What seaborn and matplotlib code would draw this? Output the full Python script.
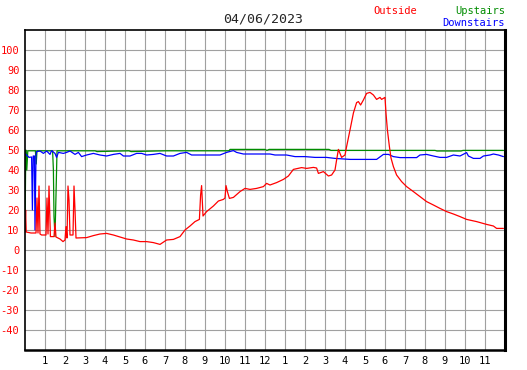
import numpy as np
import pandas as pd
import matplotlib
matplotlib.use('Agg')
import matplotlib.pyplot as plt
import seaborn as sns

# temperatures (hours since midnight, degrees)
outside_hours = [0.0, 0.03, 0.06, 0.3, 0.55, 0.6, 0.65, 0.7, 0.75, 0.83, 1.05, 1.1, 1.15, 1.2, 1.27,
                 1.45, 1.5, 1.55, 1.75, 1.9, 2.0, 2.05, 2.1, 2.15, 2.2, 2.25, 2.4, 2.45, 2.5, 2.55,
                 3.08, 3.42, 3.75, 4.08, 4.42, 4.75, 5.08, 5.42, 5.75, 6.08, 6.42, 6.75, 7.08, 7.42,
                 7.75, 8.0, 8.25, 8.5, 8.72, 8.78, 8.83, 8.9, 9.08, 9.42, 9.67, 9.92, 10.0, 10.05,
                 10.12, 10.22, 10.42, 10.75, 11.0, 11.25, 11.58, 11.92, 12.08, 12.25, 12.58, 12.92,
                 13.17, 13.42, 13.83, 14.08, 14.42, 14.58, 14.67, 14.92, 15.17, 15.33, 15.5, 15.58,
                 15.67, 15.83, 16.0, 16.08, 16.25, 16.42, 16.58, 16.67, 16.78, 16.92, 17.08, 17.25,
                 17.42, 17.58, 17.75, 17.83, 18.0, 18.05, 18.12, 18.22, 18.3, 18.42, 18.58, 18.83,
                 19.08, 19.42, 19.75, 20.08, 20.42, 20.75, 21.08, 21.42, 21.75, 22.08, 22.58, 23.08,
                 23.42, 23.58, 23.92]
outside_temp = [9.0, 20, 9, 8.5, 8.5, 26, 8.5, 32, 8, 7.5, 7.5, 26, 8, 32, 6.7,
                6.7, 13.5, 6.5, 5.5, 4.2, 5, 11.7, 6, 32, 25, 7.5, 7.5, 32, 20, 6,
                6.2, 7.2, 8, 8.3, 7.5, 6.5, 5.5, 5, 4.2, 4.2, 3.7, 2.8, 5, 5.3,
                6.7, 10, 12, 14.2, 15.3, 27.5, 32.2, 17, 19.2, 22, 24.5, 25.3, 26, 32.2,
                29.2, 25.8, 26.3, 29.2, 30.8, 30.3, 30.8, 31.7, 33.3, 32.5, 33.7, 35.3,
                37, 40.3, 41.2, 40.8, 41.3, 41, 38.3, 39.2, 37, 37.5, 40, 45,
                50.3, 46.3, 47.5, 51.7, 60, 68.5, 73.7, 74.2, 72.5, 75, 78.3, 78.8,
                77.5, 75.3, 76.3, 75.3, 76.3, 68.3, 60, 51.7, 46.0, 41.7, 37.5, 34.2,
                31.7, 29.2, 26.7, 24.2, 22.5, 20.8, 19.2, 18, 16.7, 15.3, 14.2, 12.8,
                12, 10.8, 10.8]

upstairs_hours = [0.0, 0.04, 0.09, 0.14, 0.52, 0.56, 0.6, 1.38, 1.42, 1.45, 1.5, 1.55, 1.6,
                  3.5, 3.6, 5.2, 5.3, 7.0, 7.1, 10.2, 10.25, 12.0, 12.1, 12.2, 15.2, 15.3,
                  20.5, 20.6, 21.8, 21.9, 23.92]
upstairs_temp = [10, 50, 40, 49.6, 49.6, 43, 49.6, 49.6, 40, 16.7, 6.7, 27.5, 49.6,
                 49.6, 49.2, 49.6, 49.2, 49.6, 49.6, 49.6, 50.3, 50.3, 49.8, 50.3, 50.3, 49.8,
                 49.8, 49.5, 49.5, 49.8, 49.8]

downstairs_hours = [0.0, 0.2, 0.33, 0.37, 0.41, 0.47, 0.5, 0.55, 0.58, 0.75, 0.92, 1.08, 1.25,
                    1.33, 1.5, 1.58, 1.67, 1.92, 2.08, 2.25, 2.5, 2.67, 2.83, 3.08, 3.42, 3.75,
                    4.08, 4.42, 4.75, 4.92, 5.25, 5.58, 5.83, 6.08, 6.42, 6.75, 7.08, 7.42, 7.75,
                    8.08, 8.33, 9.75, 10.08, 10.42, 10.58, 10.92, 12.25, 12.5, 13.08, 13.5, 14.0,
                    14.5, 15.08, 15.5, 16.25, 17.58, 17.92, 18.17, 18.42, 18.75, 19.58, 19.75,
                    20.08, 20.42, 20.75, 21.08, 21.42, 21.75, 22.08, 22.17, 22.42, 22.75, 22.92,
                    23.25, 23.42, 23.67, 23.92]
downstairs_temp = [48.3, 46.3, 46.5, 20, 47, 47, 10, 47.5, 49.2, 49.5, 48.3, 49.5, 47.8,
                   49.7, 48.3, 46.3, 48.8, 48.3, 48.8, 49.5, 47.8, 48.8, 46.7, 47.5, 48.3, 47.5,
                   47, 47.8, 48.3, 47, 47, 48.3, 48.3, 47.5, 47.8, 48.3, 47, 47, 48.3,
                   48.8, 47.5, 47.5, 48.8, 49.7, 48.8, 48, 48, 47.5, 47.5, 46.7, 46.7,
                   46.3, 46.3, 45.8, 45.3, 45.3, 47.8, 47.8, 46.7, 46.2, 46.2, 47.5,
                   47.8, 47, 46.3, 46.3, 47.5, 47, 48.7, 47, 45.8, 45.8, 47,
                   47.5, 48, 47.5, 46.7]

hour_ticks = list(range(1, 24))
hour_labels = [str(h if h <= 12 else h - 12) for h in hour_ticks]
temp_ticks = list(range(-40, 101, 10))

outside = pd.DataFrame({'hour': outside_hours, 'temp': outside_temp})
upstairs = pd.DataFrame({'hour': upstairs_hours, 'temp': upstairs_temp})
downstairs = pd.DataFrame({'hour': downstairs_hours, 'temp': downstairs_temp})

sns.set_style('white')
plt.rcParams['font.family'] = ['DejaVu Sans Mono', 'DejaVu Sans']

fig = plt.figure(figsize=(5.27, 3.70), dpi=100)
ax = fig.add_axes([25 / 527, 20 / 370, 480 / 527, 320 / 370])

# grid first so the lines sit on top of it
for h in hour_ticks:
    ax.axvline(h, color='#a0a0a0', lw=0.8, zorder=0)
for t in temp_ticks:
    ax.axhline(t, color='#a0a0a0', lw=0.8, zorder=0)

sns.lineplot(data=upstairs, x='hour', y='temp', color='#008c00', lw=0.9,
             estimator=None, sort=False, ax=ax)
sns.lineplot(data=downstairs, x='hour', y='temp', color='#0000ff', lw=0.9,
             estimator=None, sort=False, ax=ax)
sns.lineplot(data=outside, x='hour', y='temp', color='#ff0000', lw=0.9,
             estimator=None, sort=False, ax=ax)

ax.set_xlim(0, 24)
ax.set_ylim(-50, 110)
ax.set_xticks(hour_ticks)
ax.set_xticklabels(hour_labels)
ax.set_yticks(temp_ticks)
ax.set_yticklabels([str(t) for t in temp_ticks])
ax.set_xlabel('')
ax.set_ylabel('')
ax.tick_params(axis='both', direction='in', length=4, width=1, colors='black',
               labelsize=7.5, pad=4)
ax.tick_params(axis='y', labelcolor='#ff0000')

for side in ['left', 'top']:
    ax.spines[side].set_linewidth(1.2)
    ax.spines[side].set_color('black')
ax.spines['right'].set_linewidth(2.2)
ax.spines['bottom'].set_linewidth(1.8)
ax.spines['right'].set_color('black')
ax.spines['bottom'].set_color('black')

# title and legend texts
fig.text(263 / 527, 1 - 19 / 370, '04/06/2023', ha='center', va='center', fontsize=9.5)
fig.text(373 / 527, 1 - 11 / 370, 'Outside', ha='left', va='center', fontsize=7.5, color='#ff0000')
fig.text(505 / 527, 1 - 11 / 370, 'Upstairs', ha='right', va='center', fontsize=7.5, color='#008c00')
fig.text(505 / 527, 1 - 23 / 370, 'Downstairs', ha='right', va='center', fontsize=7.5, color='#0000ff')

fig.savefig('out.png', dpi=100)
